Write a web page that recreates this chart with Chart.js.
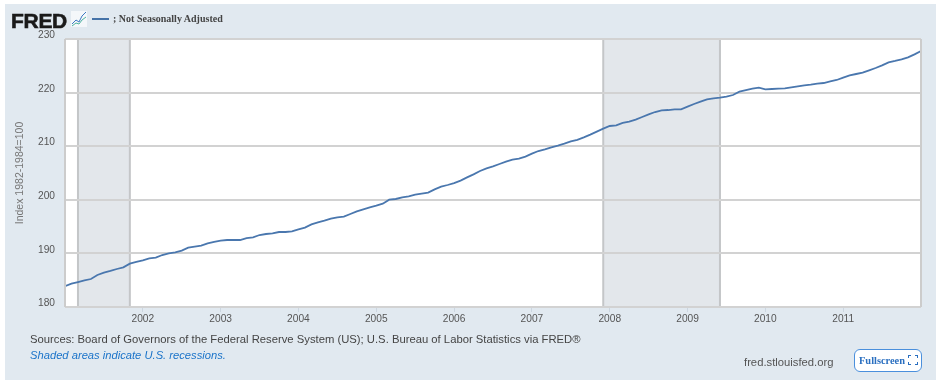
<!DOCTYPE html>
<html><head><meta charset="utf-8">
<script src="https://cdn.jsdelivr.net/npm/chart.js@4"></script>
<style>
html,body{margin:0;padding:0;background:#fff;}
#page{position:relative;width:936px;height:384px;overflow:hidden;background:#fff;}
#panel{position:absolute;left:5px;top:4px;width:931px;height:376px;background:#e1e9f0;}
canvas{position:absolute;left:0;top:0;}
.t{position:absolute;white-space:nowrap;line-height:1;}
#logo{left:11px;top:9px;font:bold 21px "Liberation Sans",Arial,sans-serif;color:#1a1a1a;-webkit-text-stroke:.6px #1a1a1a;letter-spacing:-.3px;}
#icon{position:absolute;left:71px;top:11px;}
#lline{position:absolute;left:92px;top:18px;width:17px;height:2px;background:#4572a7;}
#ltext{left:113px;top:13px;font:bold 10px "Liberation Serif","Times New Roman",serif;color:#444;}
#src{left:30px;top:333px;font:11.27px "Liberation Sans",Arial,sans-serif;color:#444;}
#shade{left:30px;top:349px;font:italic 11.2px "Liberation Sans",Arial,sans-serif;color:#1a73c9;}
#site{left:744px;top:356px;font:11.25px "Liberation Sans",Arial,sans-serif;color:#555;}
#fs{position:absolute;left:854px;top:349px;width:66px;height:21px;border:1.5px solid #4a8fdc;border-radius:6px;background:#fff;}
#fst{left:4px;top:5px;font:bold 10.4px "Liberation Serif","Times New Roman",serif;color:#2a6fc0;}
#fsi{position:absolute;left:53px;top:5px;}
</style></head>
<body><div id="page">
<div id="panel"></div>
<canvas id="c" width="936" height="384"></canvas>
<div class="t" id="logo">FRED</div>
<svg id="icon" width="16" height="16" viewBox="0 0 16 16"><rect width="16" height="16" fill="#f4f7fa"/><polyline points="1,13 5,9 8,11 11,5 15,1" fill="none" stroke="#3a78c2" stroke-width="1"/><polyline points="1,15 5,12 8,13 11,9 15,6" fill="none" stroke="#4fb3a0" stroke-width="1"/></svg>
<div id="lline"></div>
<div class="t" id="ltext">; Not Seasonally Adjusted</div>
<div class="t" id="src">Sources: Board of Governors of the Federal Reserve System (US); U.S. Bureau of Labor Statistics via FRED®</div>
<div class="t" id="shade">Shaded areas indicate U.S. recessions.</div>
<div class="t" id="site">fred.stlouisfed.org</div>
<div id="fs"><div class="t" id="fst">Fullscreen</div>
<svg id="fsi" width="10" height="10" viewBox="0 0 10 10"><path d="M0 3V0H3M7 0H10V3M10 7V10H7M3 10H0V7" fill="none" stroke="#2a6fc0" stroke-width="2"/></svg></div>
</div>
<script>
// Months are counted from January 2001 = 0
const seriesName = "; Not Seasonally Adjusted";
const axisTitle = "Index 1982-1984=100";
const values = [
183.9,184.35,184.66,184.98,185.22,185.97,186.4,186.72,187.09,187.4,188.08,188.4,
188.71,189.08,189.2,189.7,190.01,190.2,190.51,191.07,191.26,191.44,191.88,192.13,
192.38,192.5,192.5,192.5,192.87,193.0,193.43,193.62,193.74,193.99,193.99,194.12,
194.49,194.8,195.42,195.8,196.11,196.48,196.73,196.85,197.35,197.85,198.22,198.6,
198.9,199.28,200.02,200.15,200.46,200.65,200.96,201.14,201.33,201.95,202.45,202.76,
203.13,203.57,204.19,204.75,205.37,205.87,206.24,206.68,207.11,207.49,207.67,208.05,
208.61,209.1,209.42,209.79,210.1,210.47,210.91,211.2,211.65,212.15,212.71,213.27,
213.77,213.89,214.33,214.58,214.95,215.45,215.95,216.38,216.69,216.75,216.88,216.88,
217.38,217.87,218.31,218.74,218.93,219.05,219.24,219.55,220.17,220.45,220.73,220.92,
220.61,220.67,220.73,220.8,220.98,221.17,221.36,221.48,221.67,221.79,222.1,222.35,
222.79,223.22,223.47,223.72,224.15,224.59,225.09,225.65,225.9,226.21,226.58,227.14,227.76
];
const xTickMonths = [12,24,36,48,60,72,84,96,108,120];
const xTickLabels = ["2002","2003","2004","2005","2006","2007","2008","2009","2010","2011"];
const yTicks = [180,190,200,210,220,230];
const recessionStarts = [2,83];
const recessionEnds = [10,101];

const plotFrame = {
  id:'plotFrame',
  beforeDraw(chart){
    const {ctx,chartArea:a,scales:{x}} = chart;
    ctx.save();
    ctx.fillStyle='#fff';
    ctx.fillRect(a.left,a.top,a.width,a.height);
    recessionStarts.forEach((s,i)=>{
      const l=x.getPixelForValue(s), r=x.getPixelForValue(recessionEnds[i]);
      ctx.fillStyle='#e3e7eb';
      ctx.fillRect(l,a.top,r-l,a.height);
      ctx.strokeStyle='#c4c6c8';
      ctx.lineWidth=2;
      [l,r].forEach(p=>{ctx.beginPath();ctx.moveTo(p,a.top);ctx.lineTo(p,a.bottom);ctx.stroke();});
    });
    ctx.restore();
  },
  afterDatasetsDraw(chart){
    const {ctx,chartArea:a} = chart;
    ctx.save();
    ctx.strokeStyle='#cccccc';
    ctx.lineWidth=2;
    ctx.beginPath();ctx.moveTo(a.left,a.top);ctx.lineTo(a.left,a.bottom);ctx.moveTo(a.right,a.top);ctx.lineTo(a.right,a.bottom);ctx.stroke();
    ctx.restore();
  }
};

new Chart(document.getElementById('c'),{
  type:'line',
  data:{datasets:[{label:seriesName,data:values.map((y,i)=>({x:i,y})),borderColor:'#4a77ae',borderWidth:1.8,pointRadius:0,tension:0,fill:false}]},
  options:{
    responsive:false,animation:false,
    layout:{padding:{top:39,right:15,bottom:57,left:0}},
    plugins:{legend:{display:false},tooltip:{enabled:false}},
    scales:{
      x:{type:'linear',min:0,max:132,
        afterBuildTicks(s){s.ticks=xTickMonths.map(v=>({value:v}));},
        afterFit(s){s.height=20;},
        grid:{drawOnChartArea:false,drawTicks:true,tickLength:5,tickColor:'#ccd6e0',tickWidth:1},
        border:{display:false},
        ticks:{autoSkip:false,maxRotation:0,padding:1,color:'#555',font:{family:'"Liberation Sans",Arial,sans-serif',size:10.2},
          callback(v){return xTickLabels[xTickMonths.indexOf(v)];}}
      },
      y:{type:'linear',min:180,max:230,
        afterBuildTicks(s){s.ticks=yTicks.map(v=>({value:v}));},
        afterFit(s){s.width=65;},
        grid:{color:'#d2d2d2',lineWidth:2,drawTicks:false},
        border:{display:false},
        title:{display:true,text:axisTitle,color:'#777',padding:{top:14,bottom:0},font:{family:'"Liberation Sans",Arial,sans-serif',size:10.5}},
        ticks:{padding:10,color:'#555',font:{family:'"Liberation Sans",Arial,sans-serif',size:10.2,lineHeight:0.72},
          callback(v){return [String(v),''];}}
      }
    }
  },
  plugins:[plotFrame]
});
</script>
</body></html>
